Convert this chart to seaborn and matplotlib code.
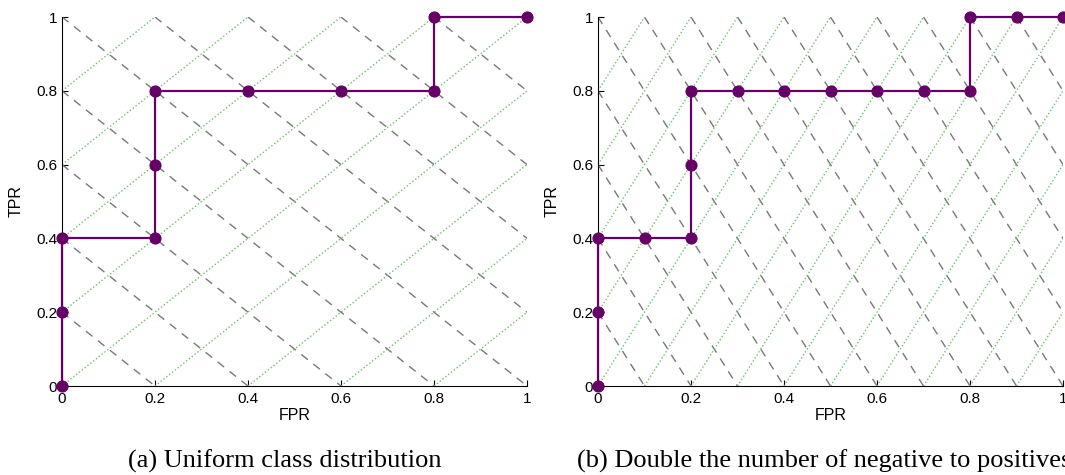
import matplotlib
matplotlib.use("Agg")
import matplotlib.pyplot as plt
import seaborn as sns
import pandas as pd
import numpy as np

# ---- data ----
fpr_a = [0, 0, 0, 0.2, 0.2, 0.2, 0.4, 0.6, 0.8, 0.8, 1.0]
tpr_a = [0, 0.2, 0.4, 0.4, 0.6, 0.8, 0.8, 0.8, 0.8, 1.0, 1.0]
fpr_b = [0, 0, 0, 0.1, 0.2, 0.2, 0.2, 0.3, 0.4, 0.5, 0.6, 0.7, 0.8, 0.8, 0.9, 1.0]
tpr_b = [0, 0.2, 0.4, 0.4, 0.4, 0.6, 0.8, 0.8, 0.8, 0.8, 0.8, 0.8, 0.8, 1.0, 1.0, 1.0]
# iso-performance line slopes (neg/pos ratio) and intercepts
slope_a = 1.0
slope_b = 2.0
intercepts_a = [0.2, 0.4, 0.6, 0.8, 1.0, 1.2, 1.4, 1.6, 1.8]
intercepts_a_up = [-0.8, -0.6, -0.4, -0.2, 0.0, 0.2, 0.4, 0.6, 0.8]
intercepts_b = [0.2, 0.4, 0.6, 0.8, 1.0, 1.2, 1.4, 1.6, 1.8, 2.0, 2.2, 2.4, 2.6, 2.8]
intercepts_b_up = [-1.8, -1.6, -1.4, -1.2, -1.0, -0.8, -0.6, -0.4, -0.2, 0.0, 0.2, 0.4, 0.6, 0.8]
ticks = [0, 0.2, 0.4, 0.6, 0.8, 1.0]
tick_labels = ["0", "0.2", "0.4", "0.6", "0.8", "1"]
captions = ["(a) Uniform class distribution", "(b) Double the number of negative to positives"]

sns.set_theme(style="white")
plt.rcParams['font.family'] = ['Liberation Sans', 'DejaVu Sans']

W, H = 1065, 475
fig = plt.figure(figsize=(W / 100, H / 100), dpi=100)

purple = "#660066"
gray = "#787878"
green = "#6cbf6c"

def draw(ax, fpr, tpr, slope, down, up, caption):
    for c in down:
        ax.axline((0, c), slope=-slope, color=gray, lw=1.0, ls=(0, (6, 5)), zorder=1)
    for c in up:
        ax.axline((0, c), slope=slope, color=green, lw=1.0, ls=(0, (1, 1.6)), zorder=1)
    df = pd.DataFrame({"FPR": fpr, "TPR": tpr})
    sns.lineplot(data=df, x="FPR", y="TPR", ax=ax, sort=False, estimator=None,
                 color=purple, lw=1.6, marker="o", markersize=8,
                 markeredgecolor=purple, markerfacecolor=purple, zorder=3, clip_on=False)
    ax.set_xlim(0, 1)
    ax.set_ylim(0, 1)
    ax.set_xticks(ticks)
    ax.set_xticklabels(tick_labels)
    ax.set_yticks(ticks)
    ax.set_yticklabels(tick_labels)
    for s in ["top", "right"]:
        ax.spines[s].set_visible(False)
    for s in ["left", "bottom"]:
        ax.spines[s].set_color("black")
        ax.spines[s].set_linewidth(0.8)
    ax.tick_params(direction="in", length=4, width=0.8, colors="black",
                   labelsize=11, left=True, bottom=True)
    ax.tick_params(axis="y", pad=3.5)
    ax.tick_params(axis="x", pad=4)
    ax.set_xlabel("FPR", fontsize=11.5, labelpad=2, color="black")
    ax.set_ylabel("TPR", fontsize=11.5, labelpad=9, color="black")
    ax.grid(False)
    ax.text(0.5, -0.205, caption, transform=ax.transAxes, ha="center", va="center",
            fontsize=19, family=["Liberation Serif", "DejaVu Serif"], color="black")

ax1 = fig.add_axes([62 / W, (H - 386) / H, 465 / W, 369 / H])
ax2 = fig.add_axes([598 / W, (H - 386) / H, 465 / W, 369 / H])
draw(ax1, fpr_a, tpr_a, slope_a, intercepts_a, intercepts_a_up, captions[0])
draw(ax2, fpr_b, tpr_b, slope_b, intercepts_b, intercepts_b_up, captions[1])
ax1.texts[-1].set_position((0.4785, -0.205))
ax2.texts[-1].set_position((-0.045, -0.205))
ax2.texts[-1].set_ha("left")

fig.savefig("out.png", dpi=100)
